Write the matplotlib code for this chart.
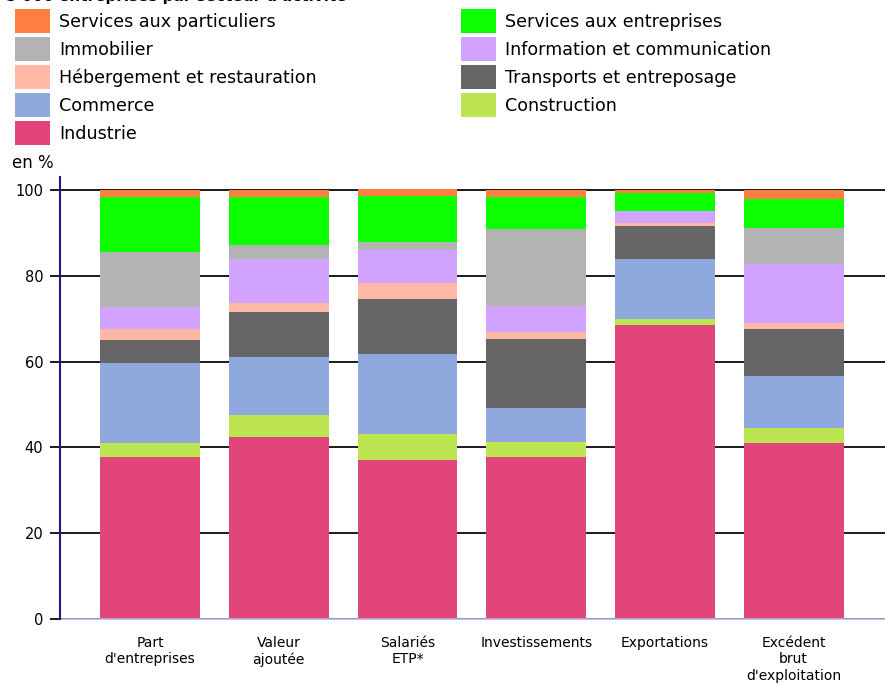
import matplotlib.pyplot as plt
from matplotlib.patches import Rectangle
import numpy as np

# Categories (x axis)
categories = ["Part\nd'entreprises", "Valeur\najoutée", "Salariés\nETP*",
              "Investissements", "Exportations", "Excédent\nbrut\nd'exploitation"]

# Shares in % per sector, stacked from the bottom up
industrie = [37.8, 42.3, 37.1, 37.8, 68.5, 40.9]
construction = [3.2, 5.3, 6.0, 3.5, 1.4, 3.7]
commerce = [18.7, 13.5, 18.7, 7.9, 14.0, 12.0]
transports = [5.3, 10.5, 12.8, 16.1, 7.7, 11.0]
hebergement = [2.6, 2.1, 3.7, 1.6, 0.6, 1.4]
information = [5.0, 10.2, 7.7, 6.1, 2.9, 13.8]
immobilier = [13.0, 3.3, 1.8, 17.8, 0.0, 8.4]
serv_entreprises = [12.8, 11.2, 10.8, 7.6, 4.2, 6.7]
serv_particuliers = [1.6, 1.6, 1.6, 1.6, 0.7, 2.1]

series = [
    ("Industrie", industrie, "#E2457A"),
    ("Construction", construction, "#BDE551"),
    ("Commerce", commerce, "#8FA8DE"),
    ("Transports et entreposage", transports, "#666666"),
    ("Hébergement et restauration", hebergement, "#FFB8A6"),
    ("Information et communication", information, "#D1A3FF"),
    ("Immobilier", immobilier, "#B3B3B3"),
    ("Services aux entreprises", serv_entreprises, "#0CFF00"),
    ("Services aux particuliers", serv_particuliers, "#FF7F40"),
]

# legend layout: (column, row)
legend_pos = {
    "Services aux particuliers": (0, 0), "Immobilier": (0, 1),
    "Hébergement et restauration": (0, 2), "Commerce": (0, 3), "Industrie": (0, 4),
    "Services aux entreprises": (1, 0), "Information et communication": (1, 1),
    "Transports et entreposage": (1, 2), "Construction": (1, 3),
}

W, H = 885, 685
fig = plt.figure(figsize=(W / 100, H / 100), dpi=100)
ax = fig.add_axes([60 / W, 66 / H, (W - 60) / W, 442 / H])

x = np.arange(len(categories))
bottom = np.zeros(len(categories))
for name, vals, col in series:
    ax.bar(x, vals, width=0.776, bottom=bottom, color=col, zorder=2)
    bottom += np.array(vals)

ax.set_xlim(-0.70, 5.71)
ax.set_ylim(0, 103)
ax.set_yticks([0, 20, 40, 60, 80, 100])
ax.grid(axis='y', color='#1a1a1a', linewidth=1.4, zorder=1)
ax.set_xticks(x)
ax.set_xticklabels(categories, fontsize=10, linespacing=1.25)
ax.tick_params(axis='x', length=0, pad=12)
ax.tick_params(axis='y', length=7, width=1.4, color='#1a1a1a', labelsize=10.5, pad=5)

for s in ['top', 'right']:
    ax.spines[s].set_visible(False)
ax.spines['left'].set_color('#1a1a80')
ax.spines['left'].set_linewidth(1.5)
ax.spines['left'].set_zorder(3)
ax.spines['bottom'].set_color('#b4b4dc')
ax.spines['bottom'].set_linewidth(1.2)

fig.text(12 / W, 1 - 163 / H, "en %", fontsize=12, va='center', ha='left')

# truncated title at the very top
fig.text(6 / W, 1 - 1.5 / H, "5 000 entreprises par secteur d'activité",
         fontsize=11, fontweight='bold', va='baseline', ha='left')

# legend
for name, vals, col in series:
    c, r = legend_pos[name]
    x0 = 15 if c == 0 else 461
    yc = 21 + r * 28
    fig.patches.append(Rectangle((x0 / W, 1 - (yc + 12) / H), 35 / W, 24 / H,
                                 transform=fig.transFigure, facecolor=col,
                                 edgecolor='none'))
    fig.text((x0 + 44) / W, 1 - (yc + 1) / H, name, fontsize=12.6, va='center', ha='left')

fig.savefig("out.png", dpi=100)
